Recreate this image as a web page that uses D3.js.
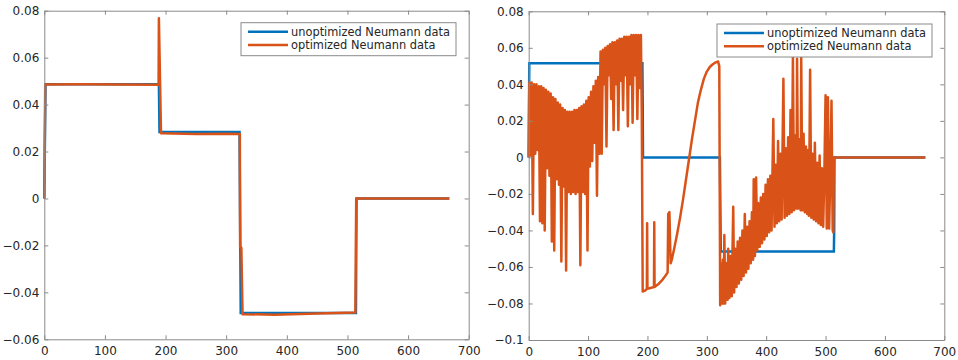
<!DOCTYPE html>
<html>
<head>
<meta charset="utf-8">
<script src="https://cdn.jsdelivr.net/npm/d3@7"></script>
<style>
  body { margin: 0; background: #fff; }
  svg { display: block; font-family: "DejaVu Sans", sans-serif; }
</style>
</head>
<body>
<svg width="958" height="360"></svg>
<script>
// tick values and labels
var xTicks = [0, 100, 200, 300, 400, 500, 600, 700];
var leftYTicks = [-0.06, -0.04, -0.02, 0, 0.02, 0.04, 0.06, 0.08];
var rightYTicks = [-0.1, -0.08, -0.06, -0.04, -0.02, 0, 0.02, 0.04, 0.06, 0.08];
var legendLabels = ["unoptimized Neumann data", "optimized Neumann data"];

// left panel, [x, value]
var leftUnopt = [[0, 0], [2, 0.0487], [189, 0.0487], [190, 0.0283], [322, 0.0283], [324, -0.0488],
  [514, -0.0488], [515, 0], [668, 0]];
var leftOpt = [[0, 0], [1.5, 0.0486], [60, 0.0487], [120, 0.0486], [188.5, 0.0484], [189, 0.0768],
  [192.5, 0.0278], [250, 0.0275], [300, 0.0276], [322.5, 0.0275], [323, -0.0205],
  [325, -0.021], [327, -0.0493], [380, -0.0495], [450, -0.0490], [513, -0.0486], [514.5, 0], [668, 0]];

// right panel, [x, value]
var rightUnopt = [[0, 0], [1, 0.0515], [191.5, 0.0515], [192, 0.031], [192.5, 0], [322, 0],
  [323.5, -0.0515], [514, -0.0515], [514.5, -0.040], [515, 0], [668, 0]];
var rightOpt = [
  [0, 0], [1, 0.041], [3, 0.001], [5, 0.041], [7, -0.031], [9, 0.040], [11, 0.002], [13, 0.040],
  [15, 0.004], [17, 0.039], [19, -0.035], [21, 0.039], [23, -0.036], [25, 0.038], [27, -0.040],
  [29, 0.037], [31, -0.006], [33, 0.036], [35, -0.010], [37, 0.035], [39, -0.046], [41, 0.033],
  [43, -0.051], [45, 0.032], [47, -0.012], [49, 0.030], [51, -0.015], [53, 0.029], [55, -0.057],
  [57, 0.027], [59, -0.016], [61, 0.026], [63, -0.062], [65, 0.025], [67, -0.019], [69, 0.025],
  [71, -0.020], [73, 0.025], [75, -0.019], [77, 0.026], [79, -0.020], [81, 0.026], [83, -0.019],
  [85, 0.027], [87, -0.059], [89, 0.028], [91, -0.019], [93, 0.029], [95, -0.020], [97, 0.031],
  [99, -0.051], [101, 0.033], [103, -0.005], [105, 0.036], [107, -0.002], [109, 0.039], [111, 0.008],
  [113, 0.042], [115, -0.021], [117, 0.044], [119, 0.002], [121, 0.058],
  [123, 0.002], [125, 0.059], [127, 0.040], [129, 0.060], [131, 0.006], [133, 0.061], [135, 0.045],
  [137, 0.062], [139, 0.032], [141, 0.063], [143, 0.015], [145, 0.063], [147, 0.040], [149, 0.064],
  [151, 0.015], [153, 0.065], [155, 0.042], [157, 0.065], [159, 0.026], [161, 0.066], [163, 0.045],
  [165, 0.066], [167, 0.017], [169, 0.066], [171, 0.040], [173, 0.067], [175, 0.019], [177, 0.067],
  [179, 0.045], [181, 0.067], [183, 0.021], [185, 0.067], [187, 0.038], [189, 0.067], [190.5, 0.022],
  [192, -0.0735],
  [196, -0.073], [199, -0.072], [199.5, -0.036], [200, -0.072], [205, -0.0715], [211, -0.071],
  [211.5, -0.0355], [212, -0.071], [218, -0.0695], [224, -0.0675], [230, -0.065], [234, -0.063],
  [235, -0.031], [237, -0.030], [239, -0.058], [241, -0.056], [245, -0.050], [250, -0.042],
  [255, -0.033], [260, -0.023], [265, -0.012], [270, -0.001], [275, 0.010], [280, 0.020],
  [285, 0.030], [290, 0.037], [295, 0.043], [300, 0.047], [305, 0.0495], [310, 0.051],
  [315, 0.052], [319, 0.0525], [321, 0.050], [322.5, -0.081],
  [324, -0.058], [325.5, -0.080], [327, -0.056], [328.5, -0.080], [329.5, -0.0425], [331, -0.080],
  [333, -0.058], [335, -0.078], [336, -0.050], [338, -0.077], [340, -0.054], [342, -0.076],
  [344.5, -0.027], [346, -0.074], [348, -0.050], [350, -0.071], [352, -0.046], [354, -0.069],
  [356, -0.044], [358, -0.067], [360, -0.040], [362, -0.065], [364, -0.031], [366, -0.063],
  [368, -0.038], [370, -0.061], [372, -0.035], [374, -0.058], [376, -0.030], [378, -0.056],
  [379, -0.012], [381, -0.054], [383, -0.011], [385, -0.051], [387, -0.025], [389, -0.049],
  [391, -0.022], [393, -0.047], [395, -0.020], [397, -0.045], [399, -0.015], [401, -0.043],
  [403, -0.012], [405, -0.041], [407, -0.010], [409, -0.040], [412, 0.021], [414, -0.038],
  [416, -0.004], [418, -0.036], [420, 0.009], [422, -0.035], [424, 0.002], [426, -0.034],
  [429, 0.043], [431, -0.033], [433, 0.005], [435, -0.032], [437, 0.011], [439, -0.031],
  [441, 0.026], [443, -0.030], [445, 0.055], [447, -0.029], [449, 0.012], [451, -0.028],
  [452, 0.054], [454, -0.028], [456, 0.010], [458, -0.029], [459, 0.055], [461, -0.029],
  [463, 0.013], [465, -0.030], [467, 0.006], [469, -0.031], [471, 0.004], [472, -0.032],
  [474, 0.048], [476, -0.033], [478, 0.002], [480, -0.034], [482, 0.008], [484, -0.035],
  [486, -0.003], [488, -0.036], [490, 0.001], [492, -0.037], [494, -0.006], [496, -0.038],
  [498, -0.008], [500, 0.034], [502, -0.039], [504, 0.033], [506, -0.039], [508, -0.010],
  [510, 0.031], [512, -0.040], [513, -0.041], [514, 0], [668, 0]
];

var BLUE = "#0072bd", ORANGE = "#d95319";
var AXIS_GRAY = "#8a8a8a", TEXT_GRAY = "#262626";

var svg = d3.select("svg");

function drawPanel(p) {
  var x = d3.scaleLinear().domain([0, 700]).range([p.left, p.right]);
  var y = d3.scaleLinear().domain(p.yDomain).range([p.bottom, p.top]);
  var g = svg.append("g");
  var fmt = function(d) { return d3.format("~g")(+d.toFixed(2)); };

  // white plot area
  g.append("rect")
    .attr("x", p.left).attr("y", p.top)
    .attr("width", p.right - p.left).attr("height", p.bottom - p.top)
    .attr("fill", "#fff");

  // lines
  var line = d3.line()
    .x(function(d) { return x(d[0]); })
    .y(function(d) { return y(d[1]); });

  g.append("path")
    .datum(p.unopt)
    .attr("fill", "none")
    .attr("stroke", BLUE)
    .attr("stroke-width", 2.5)
    .attr("d", line);

  g.append("path")
    .datum(p.opt)
    .attr("fill", "none")
    .attr("stroke", ORANGE)
    .attr("stroke-width", 2.5)
    .attr("stroke-linejoin", "round")
    .attr("d", line);

  // axes, ticks point inwards like matlab
  var bottom = g.append("g")
    .attr("transform", "translate(0," + p.bottom + ")")
    .call(d3.axisBottom(x).tickValues(xTicks).tickSizeInner(-4).tickSizeOuter(0).tickPadding(7));
  var leftAx = g.append("g")
    .attr("transform", "translate(" + p.left + ",0)")
    .call(d3.axisLeft(y).tickValues(p.yTicks).tickFormat(fmt).tickSizeInner(-4).tickSizeOuter(0).tickPadding(5));
  var top = g.append("g")
    .attr("transform", "translate(0," + p.top + ")")
    .call(d3.axisTop(x).tickValues(xTicks).tickFormat("").tickSizeInner(-4).tickSizeOuter(0));
  var rightAx = g.append("g")
    .attr("transform", "translate(" + p.right + ",0)")
    .call(d3.axisRight(y).tickValues(p.yTicks).tickFormat("").tickSizeInner(-4).tickSizeOuter(0));

  [bottom, leftAx, top, rightAx].forEach(function(a) {
    a.selectAll(".domain, line").attr("stroke", AXIS_GRAY);
    a.selectAll("text")
      .attr("fill", TEXT_GRAY)
      .style("font-family", "DejaVu Sans, sans-serif")
      .style("font-size", "12px");
  });

  // legend
  var lg = g.append("g");
  lg.append("rect")
    .attr("x", p.legend.x).attr("y", p.legend.y)
    .attr("width", 215).attr("height", 33)
    .attr("fill", "#fff")
    .attr("stroke", AXIS_GRAY);
  [BLUE, ORANGE].forEach(function(c, i) {
    var ly = p.legend.y + 9 + i * 13.3;
    lg.append("line")
      .attr("x1", p.legend.x + 7).attr("x2", p.legend.x + 47)
      .attr("y1", ly).attr("y2", ly)
      .attr("stroke", c).attr("stroke-width", 2.5);
    lg.append("text")
      .attr("x", p.legend.x + 50).attr("y", ly)
      .attr("dy", "0.35em")
      .attr("fill", TEXT_GRAY)
      .style("font-size", "11.4px")
      .text(legendLabels[i]);
  });
}

drawPanel({
  left: 44.3, right: 468.7, top: 10.7, bottom: 339.3,
  yDomain: [-0.06, 0.08], yTicks: leftYTicks,
  unopt: leftUnopt, opt: leftOpt,
  legend: { x: 241, y: 22.7 }
});

drawPanel({
  left: 528.7, right: 944.3, top: 11.3, bottom: 340,
  yDomain: [-0.1, 0.08], yTicks: rightYTicks,
  unopt: rightUnopt, opt: rightOpt,
  legend: { x: 717, y: 24 }
});
</script>
</body>
</html>
